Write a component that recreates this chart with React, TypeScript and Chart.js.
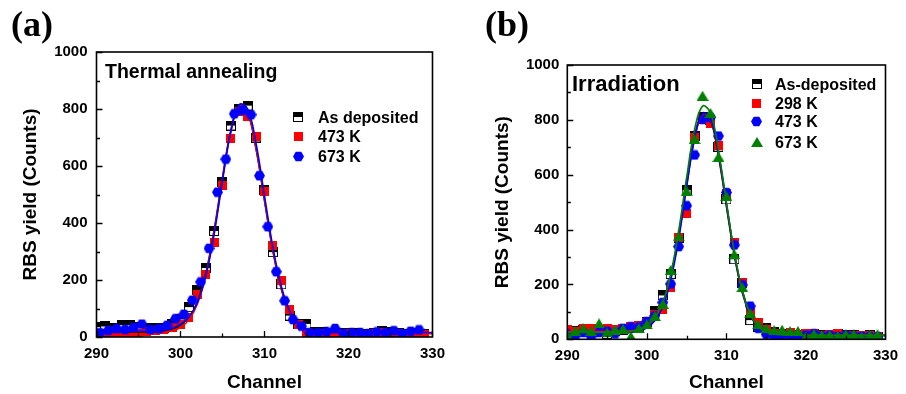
import React, { useEffect, useRef } from 'react';
import { Chart, registerables } from 'chart.js';

Chart.register(...registerables);

const SANS = '"Liberation Sans", Arial, Helvetica, sans-serif';
const SERIF = '"Liberation Serif", "Times New Roman", serif';

const BLACK = '#000000';
const RED = '#ff0000';
const BLUE = '#0000ff';
const GREEN = '#008000';

// ---------- axis ticks ----------
const X_MIN = 290;
const X_MAX = 330;
const X_STEP = 10;
const Y_MIN = 0;
const Y_MAX = 1000;
const Y_STEP = 200;

// ---------- channels ----------
const CH = [290, 291, 292, 293, 294, 295, 296, 297, 298, 299, 300, 301, 302, 303, 304, 305, 306, 307, 308, 309, 310, 311, 312, 313, 314, 315, 316, 317, 318, 319, 320, 321, 322, 323, 324, 325, 326, 327, 328, 329];
const CH_FIT = [290, 291, 292, 293, 294, 295, 296, 297, 298, 299, 300, 301, 302, 303, 304, 305, 306, 307, 308, 309, 310, 311, 312, 313, 314, 315, 316, 317, 318, 319, 320, 321, 322, 323, 324, 325, 326, 327, 328, 329, 330];
const CH_BLUE_A = [290.4, 291.4, 292.4, 293.4, 294.4, 295.4, 296.4, 297.4, 298.4, 299.4, 300.4, 301.4, 302.4, 303.4, 304.4, 305.4, 306.4, 307.4, 308.4, 309.4, 310.4, 311.4, 312.4, 313.4, 314.4, 315.4, 316.4, 317.4, 318.4, 319.4, 320.4, 321.4, 322.4, 323.4, 324.4, 325.4, 326.4, 327.4, 328.4];

// ---------- panel (a): Thermal annealing ----------
const LABELS_A = ['As deposited', '473 K', '673 K'];
const asDepA = [35, 37, 33, 42, 42, 36, 32, 30, 32, 45, 62, 105, 165, 242, 372, 545, 742, 800, 812, 700, 515, 298, 185, 75, 45, 46, 18, 16, 15, 14, 15, 14, 12, 15, 20, 18, 15, 12, 15, 12];
const k473A = [10, 12, 10, 8, 15, 12, 18, 22, 25, 35, 45, 70, 150, 220, 330, 530, 695, 790, 775, 705, 512, 322, 200, 96, 45, 15, 10, 12, 10, 8, 12, 10, 10, 12, 15, 10, 12, 10, 12, 10];
const k673A = [15, 23, 29, 26, 33, 45, 26, 29, 41, 64, 80, 129, 193, 311, 508, 624, 783, 795, 780, 566, 387, 229, 127, 61, 38, 15, 15, 18, 30, 12, 15, 15, 12, 18, 15, 22, 12, 20, 25];
const fitAsDepA = [16, 16, 16, 16, 16, 16, 16, 17, 20, 28, 42, 68, 122, 222, 375, 560, 726, 812, 786, 658, 478, 302, 168, 86, 44, 26, 19, 16, 15, 15, 15, 15, 15, 15, 15, 15, 15, 15, 15, 15, 15];
const fit473A = [12, 12, 12, 12, 12, 12, 12, 13, 16, 22, 33, 60, 115, 215, 368, 555, 722, 810, 788, 662, 482, 305, 170, 86, 42, 22, 15, 13, 12, 12, 12, 12, 12, 12, 12, 12, 12, 12, 12, 12, 12];
const fit673A = [20, 20, 20, 20, 20, 20, 20, 21, 24, 31, 45, 70, 120, 212, 360, 548, 722, 815, 800, 678, 495, 315, 178, 92, 47, 27, 19, 17, 16, 16, 16, 16, 16, 16, 16, 16, 16, 16, 16, 16, 16];

// ---------- panel (b): Irradiation ----------
const LABELS_B = ['As-deposited', '298 K', '473 K', '673 K'];
const asDepB = [35, 30, 35, 35, 30, 20, 30, 35, 45, 45, 64, 104, 160, 238, 371, 544, 741, 812, 800, 702, 510, 292, 204, 70, 45, 40, 25, 20, 20, 15, 15, 20, 15, 15, 18, 15, 15, 12, 15, 10];
const k298B = [35, 30, 38, 40, 35, 38, 35, 40, 45, 50, 60, 90, 109, 190, 372, 459, 735, 800, 785, 705, 532, 352, 207, 100, 60, 34, 20, 10, 25, 15, 20, 20, 15, 18, 20, 15, 15, 15, 15, 12];
const k473B = [20, 12, 25, 10, 25, 30, 20, 40, 45, 45, 65, 85, 134, 202, 338, 487, 672, 802, 809, 741, 535, 344, 198, 121, 40, 18, 10, 15, 15, 10, 15, 20, 12, 15, 10, 15, 12, 10, 10, 10];
const k673B = [15, 30, 40, 30, 58, 25, 35, 38, 10, 40, 55, 85, 130, 253, 375, 540, 730, 888, 825, 665, 522, 310, 190, 95, 55, 40, 33, 35, 30, 30, 10, 20, 15, 15, 12, 18, 18, 10, 15, 18];
const fitAsDepB = [25, 25, 25, 25, 25, 25, 25, 26, 28, 34, 48, 75, 128, 228, 380, 568, 740, 825, 800, 668, 485, 305, 170, 88, 45, 27, 19, 16, 15, 15, 15, 15, 15, 15, 15, 15, 15, 15, 15, 15, 15];
const fit298B = [28, 28, 28, 28, 28, 28, 28, 29, 31, 37, 50, 78, 128, 225, 375, 560, 732, 820, 802, 675, 495, 315, 178, 93, 48, 28, 19, 16, 15, 15, 15, 15, 15, 15, 15, 15, 15, 15, 15, 15, 15];
const fit473B = [22, 22, 22, 22, 22, 22, 22, 23, 25, 30, 42, 68, 118, 215, 365, 555, 730, 822, 806, 678, 495, 312, 175, 90, 45, 26, 17, 14, 13, 13, 13, 13, 13, 13, 13, 13, 13, 13, 13, 13, 13];
const fit673B = [25, 25, 25, 25, 25, 25, 25, 26, 29, 36, 51, 80, 134, 238, 395, 590, 765, 850, 826, 690, 500, 315, 176, 91, 46, 27, 19, 16, 15, 15, 15, 15, 15, 15, 15, 15, 15, 15, 15, 15, 15];

// ---------- marker images ----------
type Markers = { half: HTMLCanvasElement; redSq: HTMLCanvasElement; blueHex: HTMLCanvasElement; greenTri: HTMLCanvasElement };

function makeMarkers(): Markers {
  const mk = (w: number, h: number, draw: (g: CanvasRenderingContext2D) => void) => {
    const c = document.createElement('canvas');
    c.width = w;
    c.height = h;
    draw(c.getContext('2d') as CanvasRenderingContext2D);
    return c;
  };
  const half = mk(10, 10, (g) => {
    g.fillStyle = '#fff';
    g.fillRect(0, 0, 10, 10);
    g.fillStyle = '#000';
    g.fillRect(0, 0, 10, 5);
    g.strokeStyle = '#000';
    g.lineWidth = 1;
    g.strokeRect(0.5, 0.5, 9, 9);
  });
  const redSq = mk(9, 9, (g) => {
    g.fillStyle = RED;
    g.fillRect(0, 0, 9, 9);
  });
  const blueHex = mk(11, 11, (g) => {
    g.fillStyle = BLUE;
    g.beginPath();
    g.moveTo(11, 5.5);
    g.lineTo(8.25, 10.26);
    g.lineTo(2.75, 10.26);
    g.lineTo(0, 5.5);
    g.lineTo(2.75, 0.74);
    g.lineTo(8.25, 0.74);
    g.closePath();
    g.fill();
  });
  const greenTri = mk(12, 10, (g) => {
    g.fillStyle = GREEN;
    g.beginPath();
    g.moveTo(6, 0);
    g.lineTo(12, 10);
    g.lineTo(0, 10);
    g.closePath();
    g.fill();
  });
  return { half, redSq, blueHex, greenTri };
}

const pts = (xs: number[], ys: number[]) => ys.map((y, i) => ({ x: xs[i], y }));

const scatterDs = (xs: number[], ys: number[], img: HTMLCanvasElement) => ({
  data: pts(xs, ys),
  showLine: false,
  pointStyle: img,
  pointRadius: 5,
  pointHoverRadius: 5,
});

const fitDs = (ys: number[], color: string) => ({
  data: pts(CH_FIT, ys),
  showLine: true,
  borderColor: color,
  backgroundColor: color,
  borderWidth: 1.6,
  pointRadius: 0,
  pointHoverRadius: 0,
  tension: 0.4,
  fill: false,
});

// ---------- plugins ----------
const originAxes = {
  id: 'originAxes',
  afterDraw(chart: any) {
    const { ctx, chartArea: a, scales } = chart;
    const x = scales.x;
    const y = scales.y;
    ctx.save();
    ctx.strokeStyle = '#000';
    ctx.lineWidth = 1.3;
    ctx.beginPath();
    for (let v = X_MIN; v <= X_MAX; v += X_STEP / 2) {
      const px = Math.round(x.getPixelForValue(v)) + 0.5;
      const len = (v - X_MIN) % X_STEP === 0 ? 6 : 3.5;
      ctx.moveTo(px, a.bottom);
      ctx.lineTo(px, a.bottom - len);
    }
    for (let v = Y_MIN; v <= Y_MAX; v += Y_STEP / 2) {
      const py = Math.round(y.getPixelForValue(v)) + 0.5;
      const len = (v - Y_MIN) % Y_STEP === 0 ? 6 : 3.5;
      ctx.moveTo(a.left, py);
      ctx.lineTo(a.left + len, py);
    }
    ctx.stroke();
    ctx.lineWidth = 1.6;
    ctx.strokeRect(a.left, a.top, a.right - a.left, a.bottom - a.top);
    ctx.restore();
  },
};

type Overlay = {
  panel: string;
  panelX: number;
  title: string;
  titleX: number;
  titleY: number;
  titleSize: number;
  labels: string[];
  markers: HTMLCanvasElement[];
  legendX: number;
  legendTextX: number;
  legendY: number[];
};

function overlayPlugin(o: Overlay) {
  return {
    id: 'overlay',
    afterDraw(chart: any) {
      const ctx = chart.ctx as CanvasRenderingContext2D;
      ctx.save();
      ctx.fillStyle = '#000';
      ctx.textAlign = 'left';
      ctx.textBaseline = 'alphabetic';
      ctx.font = `bold 36px ${SERIF}`;
      ctx.fillText(o.panel, o.panelX, 36);
      ctx.font = `bold ${o.titleSize}px ${SANS}`;
      ctx.fillText(o.title, o.titleX, o.titleY);
      ctx.font = `bold 16px ${SANS}`;
      o.labels.forEach((lab, i) => {
        const m = o.markers[i];
        const yy = o.legendY[i];
        ctx.drawImage(m, Math.round(o.legendX - m.width / 2), Math.round(yy - m.height / 2));
        ctx.fillText(lab, o.legendTextX, yy + 5.8);
      });
      ctx.restore();
    },
  };
}

function scalesCfg(xHeight: number, yWidth: number, yPad: number) {
  const tickFont = { family: SANS, size: 15, weight: 'bold' as const };
  const titleFont = { family: SANS, size: 19, weight: 'bold' as const };
  const plain = (v: number | string) => String(v);
  return {
    x: {
      type: 'linear' as const,
      min: X_MIN,
      max: X_MAX,
      ticks: { stepSize: X_STEP, font: tickFont, color: '#000', padding: 8, maxRotation: 0, callback: plain },
      grid: { display: false, drawTicks: false },
      border: { display: false },
      title: { display: true, text: 'Channel', font: titleFont, color: '#000', padding: 0 },
      afterFit: (s: any) => {
        s.height = xHeight;
      },
    },
    y: {
      type: 'linear' as const,
      min: Y_MIN,
      max: Y_MAX,
      ticks: { stepSize: Y_STEP, font: tickFont, color: '#000', padding: yPad, callback: plain },
      grid: { display: false, drawTicks: false },
      border: { display: false },
      title: { display: true, text: 'RBS yield (Counts)', font: titleFont, color: '#000', padding: 0 },
      afterFit: (s: any) => {
        s.width = yWidth;
      },
    },
  };
}

function buildA(m: Markers): any {
  return {
    type: 'scatter',
    data: {
      datasets: [
        scatterDs(CH_BLUE_A, k673A, m.blueHex),
        fitDs(fit673A, BLUE),
        fitDs(fit473A, RED),
        fitDs(fitAsDepA, BLACK),
        scatterDs(CH, k473A, m.redSq),
        scatterDs(CH, asDepA, m.half),
      ],
    },
    options: {
      responsive: false,
      animation: false,
      events: [],
      layout: { padding: { left: 19, top: 52, right: 19, bottom: 0 } },
      plugins: { legend: { display: false }, tooltip: { enabled: false } },
      scales: scalesCfg(57, 77.5, 9),
    },
    plugins: [
      originAxes,
      overlayPlugin({
        panel: '(a)',
        panelX: 11,
        title: 'Thermal annealing',
        titleX: 105,
        titleY: 77.5,
        titleSize: 19.5,
        labels: LABELS_A,
        markers: [m.half, m.redSq, m.blueHex],
        legendX: 298,
        legendTextX: 318,
        legendY: [117, 136, 156],
      }),
    ],
  };
}

function buildB(m: Markers): any {
  return {
    type: 'scatter',
    data: {
      datasets: [
        scatterDs(CH, k673B, m.greenTri),
        fitDs(fit673B, GREEN),
        fitDs(fit473B, BLUE),
        fitDs(fit298B, RED),
        fitDs(fitAsDepB, BLACK),
        scatterDs(CH, k473B, m.blueHex),
        scatterDs(CH, k298B, m.redSq),
        scatterDs(CH, asDepB, m.half),
      ],
    },
    options: {
      responsive: false,
      animation: false,
      events: [],
      layout: { padding: { left: 38, top: 65, right: 13.3, bottom: 0 } },
      plugins: { legend: { display: false }, tooltip: { enabled: false } },
      scales: scalesCfg(54.7, 76.3, 8),
    },
    plugins: [
      originAxes,
      overlayPlugin({
        panel: '(b)',
        panelX: 32,
        title: 'Irradiation',
        titleX: 119,
        titleY: 90.5,
        titleSize: 22,
        labels: LABELS_B,
        markers: [m.half, m.redSq, m.blueHex, m.greenTri],
        legendX: 303.7,
        legendTextX: 322,
        legendY: [84, 103, 121, 142],
      }),
    ],
  };
}

function Panel({ build, left }: { build: (m: Markers) => any; left: number }) {
  const ref = useRef<HTMLCanvasElement | null>(null);
  useEffect(() => {
    if (!ref.current) return;
    const chart = new Chart(ref.current, build(makeMarkers()));
    return () => chart.destroy();
  }, [build]);
  return (
    <canvas
      ref={ref}
      width={453}
      height={394}
      style={{ position: 'absolute', left, top: 0, width: 453, height: 394, display: 'block' }}
    />
  );
}

export default function App() {
  return (
    <div style={{ position: 'fixed', left: 0, top: 0, width: 906, height: 394, background: '#fff', overflow: 'hidden' }}>
      <Panel build={buildA} left={0} />
      <Panel build={buildB} left={453} />
    </div>
  );
}
